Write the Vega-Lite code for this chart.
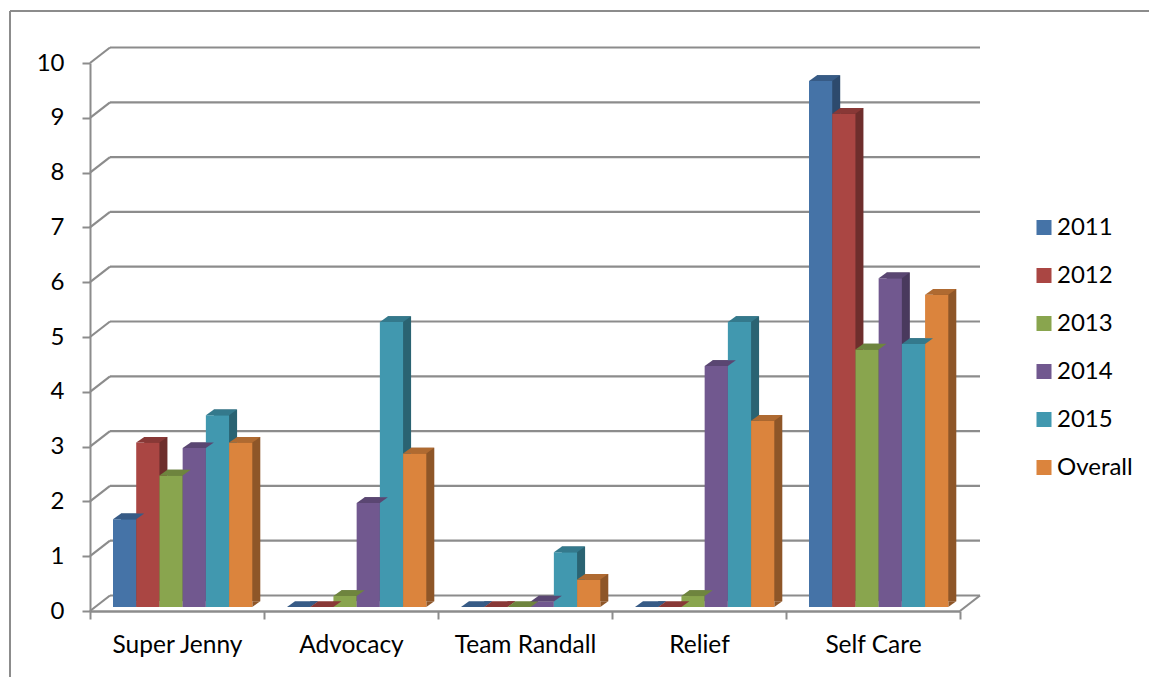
{
"$schema":"https://vega.github.io/schema/vega-lite/v6.json",
"width":870,"height":548,"autosize":{"type":"none"},
"padding":{"left":90,"top":63,"right":189,"bottom":66},
"background":"white",
"config":{"font":"Lato","view":{"stroke":null},"axisY":{"tickCount":11,"labelFontSize":24,"labelColor":"#000","labelPadding":18,"tickSize":8,"tickWidth":2,"tickColor":"#8c8c8c","domainColor":"#8c8c8c","domainWidth":2,"grid":false}},
"datasets":{
"bars":[
{"cat":"Super Jenny","series":"2011","v":1.6},{"cat":"Super Jenny","series":"2012","v":3.0},{"cat":"Super Jenny","series":"2013","v":2.4},{"cat":"Super Jenny","series":"2014","v":2.9},{"cat":"Super Jenny","series":"2015","v":3.5},{"cat":"Super Jenny","series":"Overall","v":3.0},
{"cat":"Advocacy","series":"2011","v":0},{"cat":"Advocacy","series":"2012","v":0},{"cat":"Advocacy","series":"2013","v":0.2},{"cat":"Advocacy","series":"2014","v":1.9},{"cat":"Advocacy","series":"2015","v":5.2},{"cat":"Advocacy","series":"Overall","v":2.8},
{"cat":"Team Randall","series":"2011","v":0},{"cat":"Team Randall","series":"2012","v":0},{"cat":"Team Randall","series":"2013","v":0},{"cat":"Team Randall","series":"2014","v":0.1},{"cat":"Team Randall","series":"2015","v":1.0},{"cat":"Team Randall","series":"Overall","v":0.5},
{"cat":"Relief","series":"2011","v":0},{"cat":"Relief","series":"2012","v":0},{"cat":"Relief","series":"2013","v":0.2},{"cat":"Relief","series":"2014","v":4.4},{"cat":"Relief","series":"2015","v":5.2},{"cat":"Relief","series":"Overall","v":3.4},
{"cat":"Self Care","series":"2011","v":9.6},{"cat":"Self Care","series":"2012","v":9.0},{"cat":"Self Care","series":"2013","v":4.7},{"cat":"Self Care","series":"2014","v":6.0},{"cat":"Self Care","series":"2015","v":4.8},{"cat":"Self Care","series":"Overall","v":5.7}
],
"grid":[{"t":0},{"t":1},{"t":2},{"t":3},{"t":4},{"t":5},{"t":6},{"t":7},{"t":8},{"t":9},{"t":10}],
"one":[{"f":1}]
},
"layer":[
{"data":{"name":"one"},"mark":{"type":"rule","stroke":"#8c8c8c","strokeWidth":2},"encoding":{"x":{"value":-80},"y":{"value":-52},"y2":{"value":614}}},
{"data":{"name":"one"},"mark":{"type":"rule","stroke":"#8c8c8c","strokeWidth":2},"encoding":{"x":{"value":-80},"x2":{"value":1059},"y":{"value":-52}}},
{"data":{"name":"grid"},"mark":{"type":"rule","stroke":"#8c8c8c","strokeWidth":2.2,"yOffset":-15.5},"encoding":{"x":{"value":20},"x2":{"value":890},"y":{"field":"t","type":"quantitative","scale":{"domain":[0,10]},"title":null}}},
{"data":{"name":"grid"},"mark":{"type":"point","shape":"M0,0L20,-15.5","size":4,"filled":false,"stroke":"#8c8c8c","strokeWidth":2.2,"opacity":1},"encoding":{"x":{"value":0},"y":{"field":"t","type":"quantitative","title":null}}},
{"data":{"name":"grid"},"transform":[{"filter":"datum.t === 0"}],"mark":{"type":"point","shape":"M870,0L890,-15.5","size":4,"filled":false,"stroke":"#8c8c8c","strokeWidth":2.2,"opacity":1},"encoding":{"x":{"value":0},"y":{"field":"t","type":"quantitative","title":null}}},
{"data":{"name":"bars"},
"encoding":{
"x":{"field":"cat","type":"nominal","sort":["Super Jenny","Advocacy","Team Randall","Relief","Self Care"],"scale":{"paddingInner":0,"paddingOuter":0},"title":null,"axis":{"labelAngle":0,"labelFontSize":24.5,"labelColor":"#000","labelPadding":14,"tickBand":"extent","tickSize":8,"tickWidth":2,"tickColor":"#8c8c8c","domainColor":"#8c8c8c","domainWidth":2.4,"grid":false}},
"xOffset":{"field":"series","type":"nominal","scale":{"type":"band","range":[23,162.3],"paddingInner":0,"paddingOuter":0}},
"y":{"field":"v","type":"quantitative","scale":{"domain":[0,10]},"title":null}
},
"layer":[
{"mark":{"type":"bar","yOffset":-9.7,"y2Offset":-9.7},"encoding":{"xOffset":{"field":"series","type":"nominal","scale":{"type":"band","range":[31,170.3],"paddingInner":0,"paddingOuter":0}},"color":{"field":"series","type":"nominal","legend":null,"scale":{"range":["#2D4A6D","#6E2E2C","#596B33","#49395D","#2A6372","#8E5628"]}}}},
{"mark":{"type":"point","shape":"M11.6,0L19.6,-5.7L11.6,-5.7Z","size":4,"filled":true,"opacity":1,"strokeWidth":0,"yOffset":-4},"encoding":{"y":{"datum":0,"type":"quantitative","title":null},"color":{"field":"series","type":"nominal","legend":null,"scale":{"range":["#2D4A6D","#6E2E2C","#596B33","#49395D","#2A6372","#8E5628"]}}}},
{"mark":{"type":"bar","yOffset":-4,"y2Offset":-4},"encoding":{"color":{"field":"series","type":"nominal","scale":{"range":["#4573A7","#AA4643","#89A54E","#71588F","#4198AF","#DB843D"]},"legend":{"title":null,"orient":"none","legendX":942,"legendY":153.5,"symbolType":"square","symbolSize":225,"symbolStrokeWidth":0,"labelFontSize":24,"labelColor":"#000","labelOffset":1,"rowPadding":24,"clipHeight":22}}}},
{"mark":{"type":"point","shape":"M-11.6,0L-3.6,-5.7L19.6,-5.7L11.6,0Z","size":4,"filled":true,"opacity":1,"strokeWidth":0,"yOffset":-4},"encoding":{"color":{"field":"series","type":"nominal","legend":null,"scale":{"range":["#375B86","#883836","#6E843E","#5A4672","#34798C","#AF6A31"]}}}}
],
"resolve":{"scale":{"color":"independent","xOffset":"independent"}}
}
]
}
